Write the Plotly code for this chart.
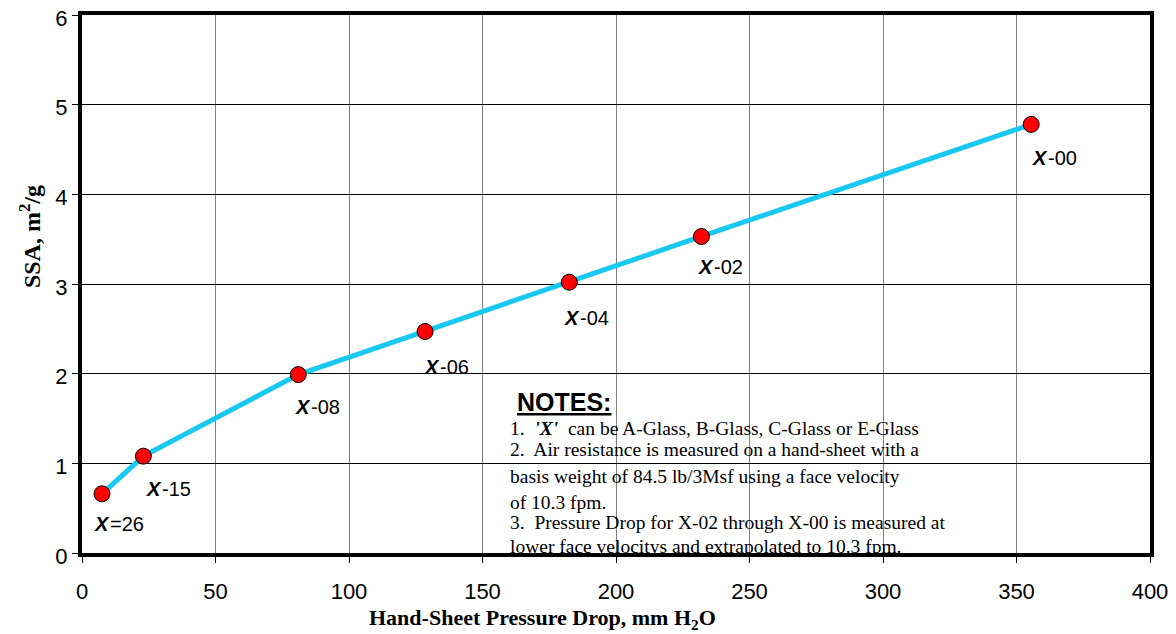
import plotly.graph_objects as go

# Data
pressure_drop = [7.5, 23, 81, 128.5, 182.5, 232, 355.5]
ssa = [0.66, 1.08, 1.99, 2.47, 3.02, 3.53, 4.78]
grades = ["=26", "-15", "-08", "-06", "-04", "-02", "-00"]
label_dy = [-30, -33, -32, -35, -36, -31, -34]
label_dx = [-10, 1, -5, -3, -7, -5, -1]

notes_title = "NOTES:"
notes_lines = [
    "1.  <b><i>'X'</i></b>  can be A-Glass, B-Glass, C-Glass or E-Glass",
    "2.  Air resistance is measured on a hand-sheet with a",
    "basis weight of 84.5 lb/3Msf using a face velocity",
    "of 10.3 fpm.",
    "3.  Pressure Drop for X-02 through X-00 is measured at",
    "lower face velocitys and extrapolated to 10.3 fpm.",
]
notes_y = [1.394, 1.149, 0.848, 0.558, 0.335, 0.075]

x_title = "<b>Hand-Sheet Pressure Drop, mm H<sub>2</sub>O</b>"
y_title = "<b>SSA, m<sup>2</sup>/g</b>"

fig = go.Figure()
fig.add_trace(go.Scatter(
    x=pressure_drop, y=ssa, mode="lines+markers",
    line=dict(color="#19C8F0", width=5),
    marker=dict(color="#FF0000", size=16, line=dict(color="black", width=1)),
    showlegend=False, cliponaxis=False,
))

for xv, yv, g, dy, dx in zip(pressure_drop, ssa, grades, label_dy, label_dx):
    fig.add_annotation(
        x=xv, y=yv, text="<b><i>X</i></b>\u200a" + g, showarrow=False,
        xanchor="left", yanchor="middle", xshift=dx, yshift=dy,
        font=dict(family="Liberation Sans, Arial", size=20, color="black"),
    )

fig.add_annotation(
    x=160, y=1.684, text="<b><u>" + notes_title + "</u></b>", showarrow=False,
    xanchor="left", yanchor="middle", xshift=6,
    font=dict(family="Liberation Sans, Arial", size=25, color="black"),
)
for t, yv in zip(notes_lines, notes_y):
    fig.add_annotation(
        x=159.5, y=yv, text=t, showarrow=False,
        xanchor="left", yanchor="middle",
        font=dict(family="Liberation Serif, Times New Roman", size=19.5, color="black"),
    )

fig.add_annotation(
    xref="paper", yref="paper", x=0.4316, y=-0.1227, text=x_title,
    showarrow=False, xanchor="center", yanchor="middle",
    font=dict(family="Liberation Serif, Times New Roman", size=22, color="black"),
)
fig.add_annotation(
    xref="paper", yref="paper", x=-0.0487, y=0.589, text=y_title,
    showarrow=False, xanchor="center", yanchor="middle", textangle=-90,
    font=dict(family="Liberation Serif, Times New Roman", size=24, color="black"),
)

fig.update_layout(
    width=1168, height=626,
    margin=dict(l=74, r=26, t=7, b=81, autoexpand=False),
    paper_bgcolor="white", plot_bgcolor="white",
    xaxis=dict(
        range=[0, 400], dtick=50, tick0=0, automargin=False,
        showgrid=True, gridcolor="#808080", gridwidth=1,
        showline=True, linecolor="black", linewidth=4, mirror=True,
        ticks="outside", ticklen=6, tickcolor="black", zeroline=False,
        ticklabelstandoff=10, ticklabeloverflow="allow",
        tickfont=dict(family="Liberation Sans, Arial", size=22, color="black"),
    ),
    yaxis=dict(
        range=[0, 6], dtick=1, automargin=False,
        showgrid=True, gridcolor="black", gridwidth=1,
        showline=True, linecolor="black", linewidth=4, mirror=True,
        ticks="outside", ticklen=6, tickcolor="black", zeroline=False,
        ticklabeloverflow="allow", ticklabelshift=3,
        tickfont=dict(family="Liberation Sans, Arial", size=22, color="black"),
    ),
)

fig.write_html("out.html")
